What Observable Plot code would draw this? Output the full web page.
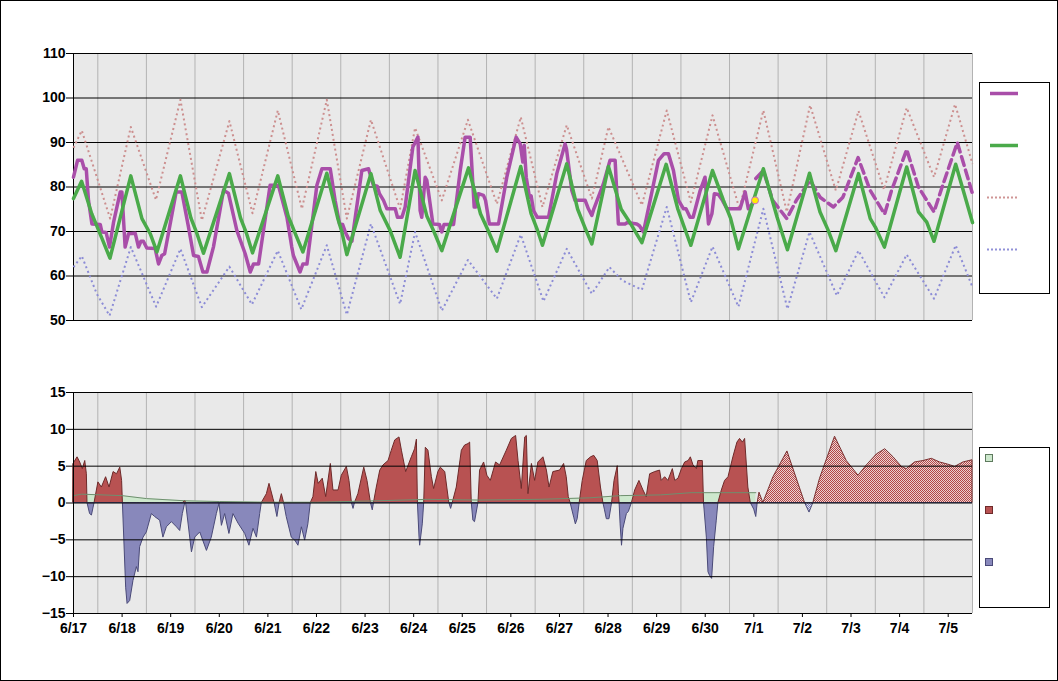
<!DOCTYPE html>
<html>
<head>
<meta charset="utf-8">
<script src="https://cdn.jsdelivr.net/npm/d3@7"></script>
<script src="https://cdn.jsdelivr.net/npm/@observablehq/plot@0.6"></script>
<style>
html,body{margin:0;padding:0;background:#fff;}
#wrap{position:relative;width:1058px;height:681px;overflow:hidden;font-family:"Liberation Sans",Arial,sans-serif;}
#topPanel,#botPanel{position:absolute;left:0;}
#topPanel{top:0;}
#botPanel{top:340px;}
.frame{position:absolute;left:0;top:0;width:1058px;height:681px;box-sizing:border-box;border:1px solid #000;pointer-events:none;}
.legend{position:absolute;background:#fff;border:1.5px solid #000;box-sizing:border-box;}
.lsvg{position:absolute;left:0;top:0;overflow:visible;}
</style>
</head>
<body>
<div id="wrap">
  <div id="topPanel"></div>
  <div id="botPanel"></div>
  <div class="legend" style="left:979px;top:82px;width:71px;height:212px;"></div>
  <div class="legend" style="left:979px;top:447px;width:71px;height:161px;"></div>
  <svg class="lsvg" width="1058" height="681" id="legsvg">
    <line x1="990" x2="1018" y1="93.5" y2="93.5" stroke="#a94ea9" stroke-width="3.5"/>
    <line x1="990" x2="1018" y1="145.5" y2="145.5" stroke="#4aaa4a" stroke-width="3.5"/>
    <line x1="987" x2="1018" y1="197.5" y2="197.5" stroke="#cf9595" stroke-width="2" stroke-dasharray="2,2"/>
    <line x1="987" x2="1018" y1="249.5" y2="249.5" stroke="#9191d8" stroke-width="2" stroke-dasharray="2,2"/>
    <rect x="985.5" y="454.5" width="7" height="7" fill="#cde8cd" stroke="#5e7a5e"/>
    <rect x="985.5" y="506.5" width="7" height="7" fill="#b85252" stroke="#6e2a2a"/>
    <rect x="985.5" y="558.5" width="7" height="7" fill="#8888bb" stroke="#4a4a78"/>
  </svg>
  <div class="frame"></div>
</div>
<script>
// x values are hours since 6/17 00:00
const dayLabels = ["6/17","6/18","6/19","6/20","6/21","6/22","6/23","6/24","6/25","6/26","6/27","6/28","6/29","6/30","7/1","7/2","7/3","7/4","7/5"];
const tempTicks = [50,60,70,80,90,100,110];
const diffTicks = [-15,-10,-5,0,5,10,15];

const observed = [[0,82.2],[2,86],[4.1,86],[5.3,84.1],[6.3,84.1],[7.4,77],[9.1,71.7],[13.2,71.6],[14,69.9],[16.1,69.8],[17.8,66.5],[19.8,72.1],[23.1,78.9],[23.9,78.9],[25.5,66.5],[27.2,69.5],[30.5,69.6],[32.1,66.5],[33.3,67.8],[34.5,67.8],[36.2,66.3],[40.3,66.2],[42,62.7],[43.6,64.6],[45,65],[50.7,78.9],[53.5,78.9],[56.8,71],[59.3,64.6],[61.7,64.4],[63.9,60.9],[65.9,60.9],[69.1,66.5],[74.1,79.3],[76.5,78.6],[80.7,70.2],[84.8,65],[87.3,60.9],[88.9,62.7],[91.4,62.7],[97.1,80.4],[101.2,80.4],[105.4,73.2],[107.8,66.5],[108.6,64.6],[111.9,60.9],[113.3,62.7],[115.3,62.7],[120.2,80.4],[122.7,84.1],[126.8,84.1],[129.2,77],[131.4,71.7],[132.9,71.6],[134.2,69.9],[135.8,68.4],[137.5,67.8],[142.4,83.7],[145.7,84.1],[148.1,80.4],[150,80.2],[151.1,78.5],[153.1,77],[154.8,75.1],[158.9,75.1],[160,73.2],[162.2,73.2],[163.8,75.5],[167.6,89],[170.1,91.2],[171.2,74.7],[172,73.2],[173.7,82.2],[174.5,81.5],[177.5,71.7],[180.7,71.6],[181.9,69.9],[183,71.6],[187.7,71.6],[191,83.7],[193.4,91.2],[195.9,91.2],[197.9,75.5],[198.8,75.5],[200,78.5],[202.5,78.1],[203.5,77],[205.4,71.7],[209.9,71.7],[214,82.2],[218.6,91.2],[220.6,89.7],[221.9,85.6],[222.6,89.4],[223.6,82.2],[225.2,77.7],[226,78],[227.2,74.7],[229.1,73.2],[234.6,73.2],[238.7,83],[242.8,89.7],[243.5,88.5],[246.1,79.2],[247.7,77],[252.7,77],[254.3,75.1],[256,73.6],[257,75.1],[261.7,80.7],[265,86],[267.5,86],[269.1,71.7],[272.4,71.7],[273.5,72],[278.2,71.7],[279.5,71.3],[281.5,69.9],[284.8,77],[288.9,86],[291.7,87.5],[293.8,87.5],[296.3,83.7],[298.8,77],[301.3,75.1],[302.5,75.1],[304.5,73.2],[306,73.2],[309.5,79.2],[311.9,82.2],[313.6,71.7],[315.3,74],[316.5,78.5],[318.5,78.3],[320.5,77],[322.7,75.1],[329.2,75.1],[331.7,78.9],[333.3,75.1],[336.6,77]];
const forecast = [[337,81.9],[340.7,83.7],[345.3,77],[352.3,72.9],[357,77],[363.8,81.5],[368.7,77.7],[375.3,75.5],[380,77.7],[387.5,86.6],[393.5,79.2],[400.6,73.9],[404,79.2],[411.5,88.4],[417.3,80],[425,74.4],[429,80],[436.5,90],[444,78.5]];
const latestObs = [[336.6,77]];
const normal = [[0,77.4],[4,81.3],[9,74],[14,68.5],[18,64.0],[28.3,82.5],[33.8,72.9],[37.9,69.5],[41.2,65.4],[52.8,82.5],[58,73],[61,69.5],[64.2,65.1],[77,83.0],[82.5,73],[85.5,69.5],[88.4,65.2],[100.9,82.5],[106,73.5],[110,69],[113.3,65.4],[125.1,83.1],[130.5,73],[132.5,70],[135,64.8],[146.9,83],[151.5,74.7],[156.4,70.2],[161.3,64.2],[168.7,83.7],[174.5,73.5],[178,70],[181.9,65.7],[195.1,84.3],[201,74],[205,70],[209.1,65.6],[220.9,84.6],[226,74],[229,70.5],[231.6,66.9],[243.6,85.2],[249,75],[252.5,71],[256,67.2],[264.2,84.6],[270.5,75],[275.5,71.5],[280.7,67.5],[292.7,85.1],[298.5,75],[302,70.5],[304.9,66.9],[315.6,83.7],[321,77],[324.5,73],[328.4,66.1],[340.7,84.1],[347.5,73.2],[352.6,65.9],[363.5,83.1],[368.7,74.4],[372.8,70.2],[376.5,65.7],[387.7,83.0],[393.5,72.9],[396,71.0],[400.5,66.5],[411.5,84.5],[417.3,74.4],[421.4,72.1],[425,67.8],[435.7,85.1],[444,72.0]];
const recordHigh = [[0,88.8],[4.1,92.7],[18.1,72.9],[28.3,93.5],[40.7,77.1],[52.8,99.6],[63.4,72.5],[77,94.8],[88.4,74.1],[100.9,97.2],[112.8,75.1],[125.1,99.6],[135,72.9],[146.9,95.1],[161.3,75.1],[168.7,93.3],[181.9,77.0],[194.8,95.1],[209.1,76.2],[220.9,95.7],[231.6,75.5],[243.6,93.9],[256,77.4],[264.2,93.5],[280.7,75.9],[293,97.2],[304.9,76.6],[315.6,96.1],[328.9,75.1],[340.7,97.2],[352.3,74.4],[363.8,98.4],[376.5,79.2],[387.7,97.1],[400.3,79.4],[411.5,97.8],[425,82.2],[435.4,98.6],[444,85.2]];
const recordLow = [[0,62.0],[4.1,64.5],[11.5,56],[17.8,51.1],[28.3,66.5],[40.8,53.1],[52.8,66.1],[63.4,53.0],[77,62.1],[88.1,53.6],[100.9,65.7],[112.5,52.5],[125.1,66.9],[135,51.3],[146.9,71.7],[161.3,53.7],[168.7,69.9],[181.9,52.2],[194.8,63.6],[209.1,54.9],[220.9,69.3],[232.1,54.3],[243.6,66.1],[256,56.0],[264.7,62.0],[271,59],[280.7,56.9],[293,75.5],[304.9,54.1],[315.6,66.6],[328.4,53.1],[340.7,75.1],[352.6,52.6],[363.5,69.9],[377,55.6],[387.7,65.7],[400.5,55.2],[411.5,64.8],[425,54.9],[435.7,66.9],[444,57.5]];

const departure = [[0,5.3],[2,6.2],[3.3,5.5],[4.6,4.6],[5.8,5.7],[6.6,3.9],[6.9,0],[8.2,-1.5],[9.1,-1.7],[10.4,0],[12.3,2.8],[14,2.1],[16.1,3.5],[17.8,2.1],[19.8,4.2],[21.5,3.9],[23.1,4.8],[24,3.0],[24.4,0],[26,-11.5],[26.7,-13.7],[28,-13.3],[29.6,-10.6],[31.3,-8.7],[32.1,-9.4],[32.9,-6.0],[34.6,-4.7],[36.2,-4.0],[38.7,-1.5],[40.3,-1.9],[42.8,-2.4],[44.4,-4.7],[46.1,-3.3],[48.6,-2.6],[51.1,-3.3],[52.7,-3.8],[54,-1.5],[55.2,0.3],[55.6,0],[58.5,-6.7],[60.1,-4.7],[62.6,-4.0],[65.9,-6.5],[68.3,-4.7],[70.8,-1.5],[72.1,-0.1],[73.3,-3.1],[74.9,-1.5],[77,-4.2],[79,-1.5],[81.5,-2.8],[84.8,-4.2],[86.9,-5.8],[88.9,-3.5],[90.6,-4.7],[92.2,-1.5],[93,0],[95.5,1.2],[96.8,2.6],[98.8,0.5],[99.3,0],[100.7,-1.9],[101.8,0],[102.9,1.2],[104,0],[105.3,-1.9],[107.8,-4.7],[109.5,-5.1],[111.1,-5.8],[112.8,-3.3],[114.4,-5.1],[116,-2.9],[117.2,0],[118.5,0.8],[119.9,4.2],[121.1,2.6],[123.1,3.3],[124.8,0.8],[127.1,5.3],[128.4,1.7],[130.9,1.7],[132.5,3.7],[135,4.9],[136.3,3.0],[137.5,0],[138.3,-0.8],[139,0],[140.7,1.2],[143.6,4.8],[145.2,3.0],[146.9,0],[147.8,-1.0],[148.4,0],[149.8,2.1],[151.5,4.4],[153.1,5.1],[155.6,5.7],[157.2,7.1],[158.9,8.5],[161,8.9],[162.2,7.1],[164.3,4.2],[167.1,6.2],[168.7,7.3],[169.6,8.6],[170.1,0],[170.9,-4.7],[171.2,-5.8],[172.5,-2.9],[173.2,0],[174,7.5],[175.3,7.1],[177,3.5],[178.1,1.9],[180.2,4.2],[181.4,4.8],[183.6,4.2],[185.6,0],[186.5,-0.8],[187.3,0],[189.3,2.1],[191.8,7.1],[193.4,7.8],[195.1,8.0],[195.9,8.2],[196.7,0],[197.5,-2.4],[198.3,-2.6],[200,0],[200.8,4.4],[202.8,5.5],[204.4,3.7],[206.1,3.0],[208.7,5.5],[210.7,5.1],[214,7.1],[216.5,8.7],[218.6,9.1],[219.8,5.7],[221.4,1.9],[223.1,8.9],[223.9,9.1],[224.7,1.2],[226.4,5.3],[228,3.0],[229.6,5.5],[232.1,6.2],[233.8,4.4],[235.1,2.1],[237,4.2],[240.3,4.4],[242.3,5.3],[243.6,3.5],[244.6,0.8],[245.5,0],[247.3,-2.0],[248.1,-2.9],[249,-2.2],[250,0],[251.5,3.0],[253.5,5.7],[255.6,6.2],[257.2,6.4],[258.9,5.7],[260.5,2.1],[261.7,0],[262.5,-1.0],[263.4,-2.2],[264.7,-2.2],[266,0],[267.2,3.0],[268.8,5.0],[269.4,1.2],[269.7,0],[270.2,-2.9],[270.9,-5.8],[271.6,-3.5],[273.3,-1.5],[274.3,-1.2],[275.8,0],[277.4,1.7],[279.5,3.0],[281.5,1.7],[283.1,0.8],[284.8,3.9],[287.3,4.2],[289.7,4.4],[290.5,3.0],[292.2,3.5],[293.8,3.0],[296,4.6],[297.2,3.0],[298.8,3.3],[300.5,4.6],[302.1,5.5],[303.8,5.7],[304.9,6.2],[306.2,5.1],[307.9,4.6],[308.6,5.7],[310.8,5.7],[311.4,0],[312.8,-4.7],[313.6,-9.4],[314.4,-9.9],[315.4,-10.3],[316.4,-6.0],[317.7,-2.4],[318.5,0],[320.2,1.7],[321.8,3.0],[323.5,3.5],[325.9,6.2],[327.9,8.2],[329.2,8.7],[330.6,8.2],[331.7,8.7],[333.3,2.1],[334.5,0],[336.2,-0.9],[337.2,-1.9],[337.9,0]];
const departureForecast = [[337.9,0],[338.8,1.4],[340.7,0],[345.7,3.5],[352.6,7.0],[361.3,0],[363.5,-1.3],[365.4,0],[368.7,3.3],[376.1,9.0],[381.9,5.7],[387.7,3.7],[391.8,5.1],[396.8,6.6],[400.9,7.3],[405,6.2],[409.1,4.9],[411.5,4.6],[415.6,5.5],[419.8,5.7],[423.9,6.0],[428,5.5],[432.1,5.2],[435.4,4.9],[439.5,5.5],[444,5.8]];
const departureBand = [[0,1.0],[4,1.2],[24,1.0],[36,0.6],[55,0.3],[72,0.2],[96,0.1],[120,0.1],[150,0.3],[175,0.5],[200,0.4],[230,0.5],[255,0.7],[270,1.0],[290,1.1],[305,1.4],[337,1.4]];

const X = d => d[0], Y = d => d[1];
const dayHours = dayLabels.map((_, i) => i * 24);
const noonHours = dayLabels.map((_, i) => i * 24 + 12);
const font = "'Liberation Sans', Arial, sans-serif";
const baseStyle = {background: "transparent", fontFamily: font, fontSize: "14px", fontWeight: "bold", color: "#000", overflow: "visible"};

const topChart = Plot.plot({
  width: 1058, height: 340,
  marginLeft: 73, marginRight: 86, marginTop: 53, marginBottom: 20,
  style: baseStyle,
  x: {domain: [0, 444], axis: null},
  y: {domain: [50, 110], ticks: tempTicks, tickSize: 7, tickPadding: 1, label: null},
  marks: [
    Plot.frame({fill: "#e9e9e9", stroke: null}),
    Plot.ruleX(noonHours, {stroke: "#b3b3b3", strokeWidth: 1}),
    Plot.ruleY(tempTicks, {stroke: "#000", strokeWidth: 1}),
    Plot.ruleX([0], {stroke: "#000", strokeWidth: 1}),
    Plot.line(recordHigh, {x: X, y: Y, stroke: "#cc8f8f", strokeWidth: 2, strokeDasharray: "2,3", strokeLinecap: "butt"}),
    Plot.line(recordLow, {x: X, y: Y, stroke: "#8c8cd6", strokeWidth: 2, strokeDasharray: "2,3", strokeLinecap: "butt"}),
    Plot.line(observed, {x: X, y: Y, stroke: "#a94ea9", strokeWidth: 3.5}),
    Plot.line(forecast, {x: X, y: Y, stroke: "#a94ea9", strokeWidth: 3.5, strokeDasharray: "9,5"}),
    Plot.line(normal, {x: X, y: Y, stroke: "#4aaa4a", strokeWidth: 3.5}),
    Plot.dot(latestObs, {x: X, y: Y, r: 3.5, fill: "#ffee00", stroke: "#c86ec8", strokeWidth: 1})
  ]
});
document.getElementById("topPanel").appendChild(topChart);

const botChart = Plot.plot({
  width: 1058, height: 341,
  marginLeft: 73, marginRight: 86, marginTop: 52, marginBottom: 68,
  style: baseStyle,
  x: {domain: [0, 444], ticks: dayHours, tickFormat: h => dayLabels[Math.round(h / 24)], tickSize: 4, tickPadding: 6, label: null},
  y: {domain: [-15, 15], ticks: diffTicks, tickSize: 7, tickPadding: 1, label: null},
  marks: [
    Plot.frame({fill: "#e9e9e9", stroke: null}),
    Plot.ruleX(noonHours, {stroke: "#b3b3b3", strokeWidth: 1}),
    Plot.areaY(departureBand, {x: X, y1: 0, y2: Y, fill: "#cde8cd"}),
    Plot.areaY(departure, {x: X, y1: 0, y2: d => Math.max(0, d[1]), fill: "#b85252", stroke: "#6e2a2a", strokeWidth: 1}),
    Plot.areaY(departure, {x: X, y1: 0, y2: d => Math.min(0, d[1]), fill: "#8888bb", stroke: "#4a4a78", strokeWidth: 1}),
    Plot.areaY(departureForecast, {x: X, y1: 0, y2: d => Math.max(0, d[1]), fill: "url(#chkR)", stroke: "#7a3030", strokeWidth: 1}),
    Plot.areaY(departureForecast, {x: X, y1: 0, y2: d => Math.min(0, d[1]), fill: "url(#chkB)", stroke: "#4a4a78", strokeWidth: 1}),
    Plot.line(departureBand, {x: X, y: Y, stroke: "#6f8f6f", strokeWidth: 1}),
    Plot.ruleY(diffTicks, {stroke: "#000", strokeWidth: 1}),
    Plot.ruleX([0], {stroke: "#000", strokeWidth: 1})
  ]
});
d3.select(botChart).insert("defs", ":first-child").html(
  '<pattern id="chkR" width="2" height="2" patternUnits="userSpaceOnUse">' +
  '<rect width="2" height="2" fill="#ecd2d2"/><rect width="1" height="1" fill="#b34848"/><rect x="1" y="1" width="1" height="1" fill="#b34848"/></pattern>' +
  '<pattern id="chkB" width="2" height="2" patternUnits="userSpaceOnUse">' +
  '<rect width="2" height="2" fill="#e0e0f0"/><rect width="1" height="1" fill="#8080b8"/><rect x="1" y="1" width="1" height="1" fill="#8080b8"/></pattern>'
);
document.getElementById("botPanel").appendChild(botChart);
</script>
</body>
</html>
